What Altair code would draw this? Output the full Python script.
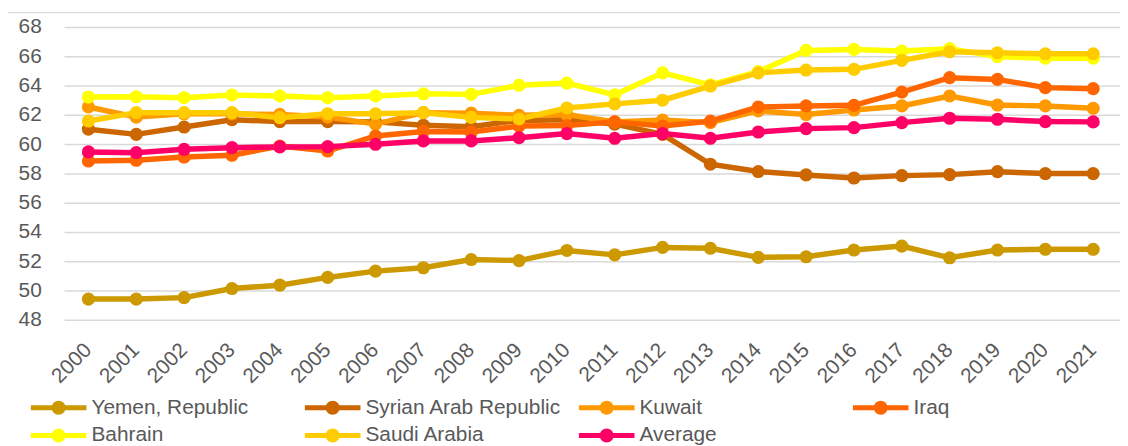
import altair as alt
import pandas as pd

years = [str(y) for y in range(2000, 2022)]
series_names = ["Yemen, Republic", "Syrian Arab Republic", "Kuwait", "Iraq",
                "Bahrain", "Saudi Arabia", "Average"]
series_colors = ["#CC9900", "#CC6600", "#FF9900", "#FF6600",
                 "#FFFF00", "#FFCC00", "#FF0066"]

yemen = [49.45, 49.45, 49.55, 50.17, 50.4, 50.93, 51.36, 51.59, 52.15, 52.08, 52.77,
         52.47, 52.98, 52.92, 52.3, 52.34, 52.8, 53.07, 52.27, 52.8, 52.85, 52.85]
syria = [61.05, 60.7, 61.2, 61.7, 61.57, 61.57, 61.55, 61.32, 61.22, 61.65, 61.7,
         61.4, 60.7, 58.66, 58.16, 57.93, 57.72, 57.88, 57.95, 58.15, 58.02, 58.02]
kuwait = [62.57, 61.88, 62.1, 62.1, 62.06, 61.88, 61.4, 62.18, 62.15, 62.0, 62.05,
          61.55, 61.68, 61.5, 62.3, 62.05, 62.36, 62.64, 63.32, 62.7, 62.64, 62.48]
iraq = [58.88, 58.93, 59.15, 59.27, 59.9, 59.56, 60.59, 60.9, 60.86, 61.27, 61.3,
        61.55, 61.27, 61.6, 62.57, 62.64, 62.68, 63.59, 64.57, 64.45, 63.89, 63.82]
bahrain = [63.25, 63.27, 63.2, 63.39, 63.32, 63.2, 63.32, 63.47, 63.43, 64.05, 64.2,
           63.4, 64.9, 64.08, 64.98, 66.43, 66.5, 66.39, 66.55, 66.0, 65.9, 65.9]
saudi = [61.61, 62.18, 62.18, 62.18, 61.84, 62.11, 62.11, 62.18, 61.86, 61.75, 62.5,
         62.78, 63.03, 64.0, 64.9, 65.09, 65.14, 65.75, 66.34, 66.27, 66.2, 66.2]
average = [59.5, 59.45, 59.68, 59.79, 59.84, 59.86, 60.02, 60.25, 60.25, 60.47, 60.75,
           60.43, 60.75, 60.43, 60.86, 61.09, 61.16, 61.5, 61.8, 61.73, 61.57, 61.55]

y_ticks = [48, 50, 52, 54, 56, 58, 60, 62, 64, 66, 68]

all_series = [yemen, syria, kuwait, iraq, bahrain, saudi, average]
rows = []
for name, vals in zip(series_names, all_series):
    for yr, v in zip(years, vals):
        rows.append({"year": yr, "series": name, "value": v})
df = pd.DataFrame(rows)
tick_df = pd.DataFrame({"tick": y_ticks})
year_df = pd.DataFrame({"year": years})
# legend entries: 4 per row, in series order
leg_df = pd.DataFrame({"series": series_names,
                       "col": [i % 4 for i in range(len(series_names))],
                       "row": [i // 4 for i in range(len(series_names))]})

FONT = "Liberation Sans"
GREY = "#595959"
BORDER = "#D9D9D9"

W, H = 1120, 438
xs = alt.Scale(type="point", domain=years, range=[81, 1093], padding=0)
ys = alt.Scale(domain=[48, 68], range=[313, 18], nice=False, zero=False)
cs = alt.Scale(domain=series_names, range=series_colors)
leg_xs = alt.Scale(domain=[0, 4], range=[51, 1155])
leg_ys = alt.Scale(domain=[0, 1], range=[401, 429])

# legend symbol: a line with a filled circle in the middle
LEGEND_PATH = ("M-4,-0.36 L4,-0.36 L4,0.36 L-4,0.36 Z "
               "M-1,0 A1,1 0 1,1 1,0 A1,1 0 1,1 -1,0 Z")

top_border = alt.Chart(pd.DataFrame({"edge": ["top"]})).mark_rule(
    color=BORDER, strokeWidth=1.3
).encode(x=alt.value(0), x2=alt.value(W), y=alt.value(3))

grid = alt.Chart(tick_df).mark_rule(color=BORDER, strokeWidth=1.5).encode(
    y=alt.Y("tick:Q", scale=ys, axis=None),
    x=alt.value(57), x2=alt.value(W),
)

y_labels = alt.Chart(tick_df).mark_text(
    align="right", baseline="middle", font=FONT, fontSize=21, color=GREY
).encode(y=alt.Y("tick:Q", scale=ys, axis=None), x=alt.value(34), text="tick:Q")

x_labels = alt.Chart(year_df).mark_text(
    align="right", baseline="middle", angle=315, font=FONT, fontSize=21, color=GREY
).encode(x=alt.X("year:O", scale=xs, axis=None), y=alt.value(340), text="year:N")

lines = alt.Chart(df).mark_line(strokeWidth=5.5).encode(
    x=alt.X("year:O", scale=xs, axis=None),
    y=alt.Y("value:Q", scale=ys, axis=None),
    color=alt.Color("series:N", scale=cs, sort=series_names, legend=None),
    order=alt.Order("year:O"),
)

points = alt.Chart(df).mark_circle(size=175, opacity=1).encode(
    x=alt.X("year:O", scale=xs, axis=None),
    y=alt.Y("value:Q", scale=ys, axis=None),
    color=alt.Color("series:N", scale=cs, sort=series_names, legend=None),
)

leg_symbols = alt.Chart(leg_df).mark_point(
    shape=LEGEND_PATH, filled=True, size=196, opacity=1, strokeWidth=0
).encode(
    x=alt.X("col:Q", scale=leg_xs, axis=None),
    y=alt.Y("row:Q", scale=leg_ys, axis=None),
    color=alt.Color("series:N", scale=cs, sort=series_names, legend=None),
)

leg_labels = alt.Chart(leg_df).mark_text(
    align="left", baseline="middle", dx=33, font=FONT, fontSize=21, color=GREY
).encode(
    x=alt.X("col:Q", scale=leg_xs, axis=None),
    y=alt.Y("row:Q", scale=leg_ys, axis=None),
    text="series:N",
)

chart = alt.layer(
    top_border, grid, lines, points, y_labels, x_labels, leg_symbols, leg_labels
).resolve_scale(x="independent", y="independent").properties(
    width=W, height=H,
    padding=0,
    autosize=alt.AutoSizeParams(type="none"),
    background="white",
).configure_view(stroke=None)

chart.save("out.html", embed_options={"renderer": "svg", "actions": False})
